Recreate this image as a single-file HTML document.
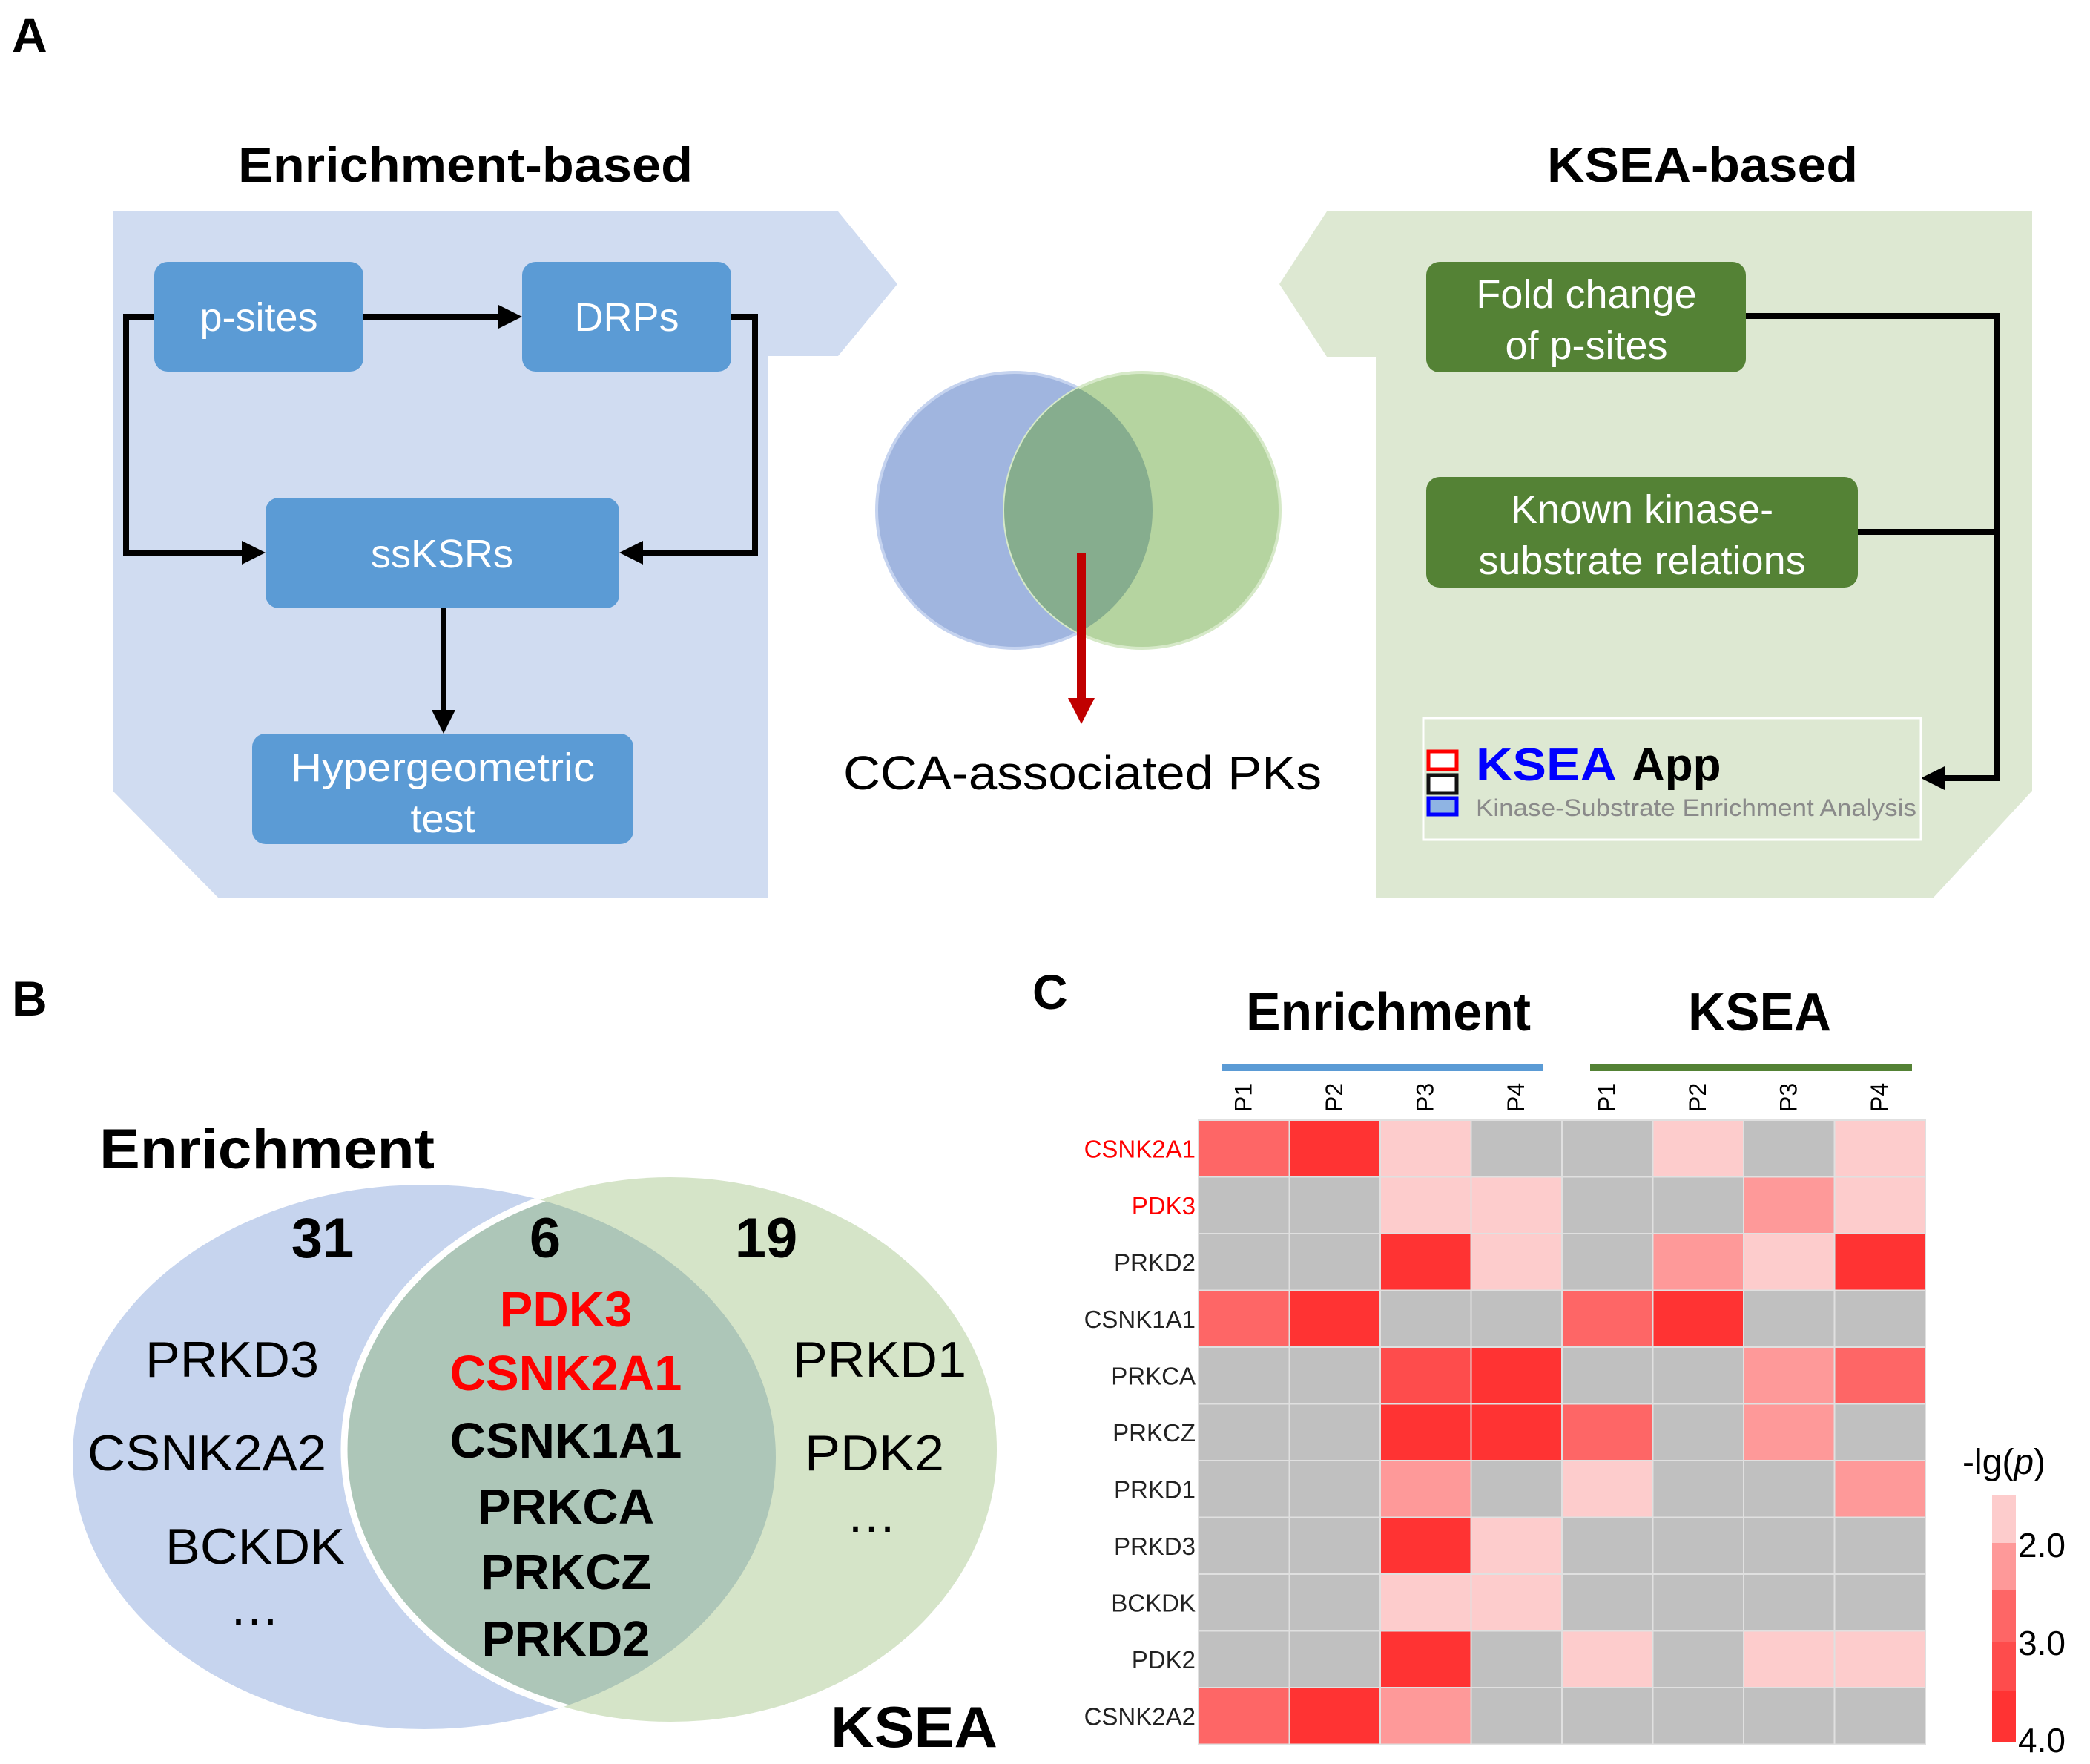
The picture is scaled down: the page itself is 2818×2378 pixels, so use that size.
<!DOCTYPE html>
<html><head><meta charset="utf-8"><style>
html,body{margin:0;padding:0;background:#fff;}
svg{display:block;font-family:"Liberation Sans",Arial,sans-serif;}
</style></head><body>
<svg width="2818" height="2378" viewBox="0 0 2818 2378" xmlns="http://www.w3.org/2000/svg">
<defs>
<clipPath id="cpBlue"><circle cx="1368" cy="688" r="186"/></clipPath>
<clipPath id="cpBlueB"><ellipse cx="572" cy="1964" rx="474" ry="367"/></clipPath>
</defs>
<!-- Labels -->
<text x="16" y="70" font-size="66" font-weight="bold">A</text>
<text x="16" y="1369" font-size="66" font-weight="bold">B</text>
<text x="1392" y="1360" font-size="66" font-weight="bold">C</text>

<!-- Panel A left -->
<text x="321" y="245" font-size="66" font-weight="bold" textLength="613" lengthAdjust="spacingAndGlyphs">Enrichment-based</text>
<polygon points="152,285 1130,285 1210,383 1130,480 1036,480 1036,1211 295,1211 152,1066" fill="#d0dcf1"/>
<g fill="#5b9bd5">
<rect x="208" y="353" width="282" height="148" rx="18"/>
<rect x="704" y="353" width="282" height="148" rx="18"/>
<rect x="358" y="671" width="477" height="149" rx="18"/>
<rect x="340" y="989" width="514" height="149" rx="18"/>
</g>
<g fill="#fff" font-size="54" text-anchor="middle">
<text x="349" y="446">p-sites</text>
<text x="845" y="446">DRPs</text>
<text x="596" y="765">ssKSRs</text>
<text x="597" y="1053" textLength="410" lengthAdjust="spacingAndGlyphs">Hypergeometric</text>
<text x="597" y="1122">test</text>
</g>
<g stroke="#000" stroke-width="8" fill="none">
<line x1="490" y1="427" x2="680" y2="427"/>
<polyline points="208,427 170,427 170,745 335,745"/>
<polyline points="986,427 1018,427 1018,745 860,745"/>
<line x1="598" y1="820" x2="598" y2="965"/>
</g>
<g fill="#000">
<polygon points="704,427 672,411 672,443"/>
<polygon points="358,745 326,729 326,761"/>
<polygon points="835,745 867,729 867,761"/>
<polygon points="598,989 582,957 614,957"/>
</g>

<!-- Center venn -->
<circle cx="1368" cy="688" r="186" fill="#a0b5df" stroke="#c5d3ef" stroke-width="4"/>
<circle cx="1540" cy="688" r="186" fill="#b5d4a0" stroke="#d6e9c8" stroke-width="4"/>
<circle cx="1540" cy="688" r="186" fill="#86ad8e" clip-path="url(#cpBlue)"/>
<rect x="1452" y="746" width="12" height="200" fill="#c00000"/>
<polygon points="1440,941 1476,941 1458,976" fill="#c00000"/>
<text x="1137" y="1064" font-size="64" textLength="645" lengthAdjust="spacingAndGlyphs">CCA-associated PKs</text>

<!-- Panel A right -->
<text x="2086" y="245" font-size="66" font-weight="bold" textLength="419" lengthAdjust="spacingAndGlyphs">KSEA-based</text>
<polygon points="1789,285 2740,285 2740,1066 2606,1211 1855,1211 1855,481 1789,481 1725,383" fill="#dde8d2"/>
<g fill="#548235">
<rect x="1923" y="353" width="431" height="149" rx="18"/>
<rect x="1923" y="643" width="582" height="149" rx="18"/>
</g>
<g fill="#fff" font-size="54" text-anchor="middle">
<text x="2139" y="415">Fold change</text>
<text x="2139" y="484">of p-sites</text>
<text x="2214" y="705">Known kinase-</text>
<text x="2214" y="774">substrate relations</text>
</g>
<g stroke="#000" stroke-width="8" fill="none">
<polyline points="2354,426 2693,426 2693,1049 2615,1049"/>
<line x1="2505" y1="717" x2="2693" y2="717"/>
</g>
<polygon points="2590,1049 2622,1033 2622,1065" fill="#000"/>
<rect x="1919" y="968" width="671" height="164" fill="none" stroke="#fff" stroke-width="3"/>
<rect x="1926" y="1013" width="38" height="24" fill="#fff" stroke="#ff0000" stroke-width="5"/>
<rect x="1926" y="1045" width="38" height="24" fill="#fff" stroke="#111" stroke-width="5"/>
<rect x="1926" y="1076" width="38" height="22" fill="#8fb4e3" stroke="#0000ff" stroke-width="5"/>
<text x="1990" y="1052" font-size="62" font-weight="bold" fill="#0000ff" textLength="190" lengthAdjust="spacingAndGlyphs">KSEA</text>
<text x="2200" y="1052" font-size="62" font-weight="bold" fill="#000">App</text>
<text x="1990" y="1100" font-size="32" fill="#8a8a8a" textLength="594" lengthAdjust="spacingAndGlyphs">Kinase-Substrate Enrichment Analysis</text>

<!-- Panel B venn -->
<ellipse cx="572" cy="1964" rx="474" ry="367" fill="#c6d4ee"/>
<ellipse cx="904" cy="1954" rx="440" ry="367" fill="#d5e4c8"/>
<ellipse cx="904" cy="1954" rx="440" ry="367" fill="#adc6b8" clip-path="url(#cpBlueB)"/>
<g clip-path="url(#cpBlueB)"><ellipse cx="904" cy="1954" rx="440" ry="367" fill="none" stroke="#fff" stroke-width="9"/></g>
<text x="134" y="1575" font-size="76" font-weight="bold" textLength="452" lengthAdjust="spacingAndGlyphs">Enrichment</text>
<g font-size="76" font-weight="bold" text-anchor="middle">
<text x="435" y="1695">31</text>
<text x="735" y="1695">6</text>
<text x="1033" y="1695">19</text>
</g>
<g font-size="68">
<text x="196" y="1856" textLength="234" lengthAdjust="spacingAndGlyphs">PRKD3</text>
<text x="118" y="1982" textLength="322" lengthAdjust="spacingAndGlyphs">CSNK2A2</text>
<text x="223" y="2108" textLength="242" lengthAdjust="spacingAndGlyphs">BCKDK</text>
<text x="343" y="2190" text-anchor="middle">…</text>
<text x="1069" y="1856" textLength="234" lengthAdjust="spacingAndGlyphs">PRKD1</text>
<text x="1085" y="1982" textLength="188" lengthAdjust="spacingAndGlyphs">PDK2</text>
<text x="1175" y="2065" text-anchor="middle">…</text>
</g>
<g font-size="67" font-weight="bold" text-anchor="middle">
<text x="763" y="1788" fill="#ff0000">PDK3</text>
<text x="763" y="1874" fill="#ff0000">CSNK2A1</text>
<text x="763" y="1965">CSNK1A1</text>
<text x="763" y="2054">PRKCA</text>
<text x="763" y="2142">PRKCZ</text>
<text x="763" y="2232">PRKD2</text>
</g>
<text x="1120" y="2355" font-size="78" font-weight="bold" textLength="225" lengthAdjust="spacingAndGlyphs">KSEA</text>

<!-- Panel C heatmap -->
<text x="1680" y="1389" font-size="72" font-weight="bold" textLength="384" lengthAdjust="spacingAndGlyphs">Enrichment</text>
<text x="2276" y="1389" font-size="72" font-weight="bold" textLength="193" lengthAdjust="spacingAndGlyphs">KSEA</text>
<rect x="1647" y="1434" width="433" height="10" fill="#5b9bd5"/>
<rect x="2144" y="1434" width="434" height="10" fill="#548235"/>
<g id="heat"></g>
<script>
(function(){
var ns="http://www.w3.org/2000/svg",g=document.getElementById('heat');
var G='#c0c0c0',L='#fdcccc',M='#fe9999',H='#fe6666',S='#fe4c4c',R='#ff3333';
var rows=[
['CSNK2A1',1,[H,R,L,G,G,L,G,L]],
['PDK3',1,[G,G,L,L,G,G,M,L]],
['PRKD2',0,[G,G,R,L,G,M,L,R]],
['CSNK1A1',0,[H,R,G,G,H,R,G,G]],
['PRKCA',0,[G,G,S,R,G,G,M,H]],
['PRKCZ',0,[G,G,R,R,H,G,M,G]],
['PRKD1',0,[G,G,M,G,L,G,G,M]],
['PRKD3',0,[G,G,R,L,G,G,G,G]],
['BCKDK',0,[G,G,L,L,G,G,G,G]],
['PDK2',0,[G,G,R,G,L,G,L,L]],
['CSNK2A2',0,[H,R,M,G,G,G,G,G]]];
var x0=1616,y0=1510,cw=122.5,rh=76.5;
function el(n,a,t){var e=document.createElementNS(ns,n);for(var k in a)e.setAttribute(k,a[k]);if(t)e.textContent=t;g.appendChild(e);return e;}
rows.forEach(function(r,i){
 r[2].forEach(function(c,j){el('rect',{x:x0+j*cw,y:y0+i*rh,width:cw,height:rh,fill:c,stroke:'#e0e0e0','stroke-width':2});});
 el('text',{x:1612,y:y0+i*rh+rh/2+12,'font-size':33,'text-anchor':'end',fill:r[1]?'#ff0000':'#222'},r[0]);
});
for(var j=0;j<8;j++){var cx=x0+j*cw+cw/2+10,cy=1499;
 el('text',{x:cx,y:cy,'font-size':32,transform:'rotate(-90 '+cx+' '+cy+')'},'P'+(j%4+1));}
})();
</script>
<text x="2646" y="1987" font-size="48">-lg(<tspan font-style="italic">p</tspan>)</text>
<rect x="2686" y="2015" width="32" height="66" fill="#fdcccc"/>
<rect x="2686" y="2080" width="32" height="65" fill="#fe9999"/>
<rect x="2686" y="2144" width="32" height="71" fill="#fe6666"/>
<rect x="2686" y="2214" width="32" height="67" fill="#fe4c4c"/>
<rect x="2686" y="2280" width="32" height="68" fill="#ff3333"/>
<g font-size="46">
<text x="2721" y="2099">2.0</text>
<text x="2721" y="2231">3.0</text>
<text x="2721" y="2362">4.0</text>
</g>
</svg>
</body></html>
